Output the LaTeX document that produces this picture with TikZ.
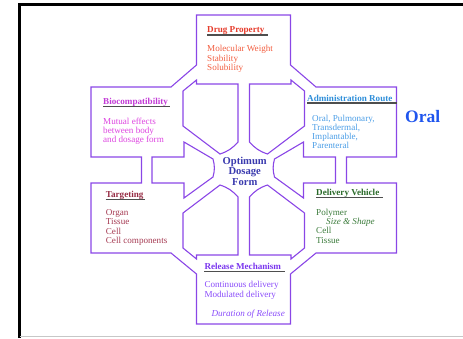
\documentclass[tikz,border=0pt]{standalone}
\usepackage{fontspec}
\setmainfont{Liberation Serif}
\definecolor{outl}{HTML}{8A46E6}
\definecolor{ulgray}{HTML}{4E4E4E}
\definecolor{drugH}{HTML}{E53B2B}
\definecolor{drugT}{HTML}{F25E40}
\definecolor{bioH}{HTML}{C23AD6}
\definecolor{bioT}{HTML}{DD45E0}
\definecolor{admH}{HTML}{2E8ED9}
\definecolor{admT}{HTML}{4A9DE6}
\definecolor{oralC}{HTML}{1F55EE}
\definecolor{coreC}{HTML}{3A3AAE}
\definecolor{tgtH}{HTML}{962C44}
\definecolor{tgtT}{HTML}{A53A52}
\definecolor{delH}{HTML}{2A6A2A}
\definecolor{delT}{HTML}{3B7B3B}
\definecolor{relH}{HTML}{7A36EE}
\definecolor{relT}{HTML}{8A4CFA}
% stacked lines with a fixed baseline distance; the stack sits on the first baseline
\newcommand\linestack[2]{\vtop{\baselineskip=#1 #2}}
\begin{document}
\begin{tikzpicture}[x=1pt,y=-1pt,
  outline/.style={draw=outl,line width=1.1pt,line join=miter},
  heading/.style={font=\fontsize{9.1}{9.3}\selectfont\bfseries,anchor=base west,inner sep=0pt},
  itemtext/.style={font=\fontsize{9.1}{9.3}\selectfont,anchor=base west,inner sep=0pt},
  ulbar/.style={draw=ulgray,line width=1.6pt},
  corelabel/.style={font=\fontsize{10.6}{10.7}\selectfont\bfseries,text=coreC,anchor=base west,inner sep=0pt}]
\useasboundingbox (0,0) rectangle (463,338);

% slide frame
\draw[line width=2.4pt] (19.5,338) -- (19.5,4.3) -- (463,4.3);
\draw[black!22,line width=1pt] (19.5,336.8) -- (463,336.8);

% outer cross-shaped outline
\draw[outline] (91,87) -- (171,87) -- (196.5,65) -- (196.5,15) -- (290.5,15) -- (290.5,65)
  -- (316,87) -- (396.5,87) -- (396.5,157) -- (346.5,157) -- (346.5,183) -- (396.5,183)
  -- (396.5,253) -- (316,253) -- (290.5,274) -- (290.5,324) -- (196.5,324) -- (196.5,274)
  -- (171,253) -- (91,253) -- (91,183) -- (141.5,183) -- (141.5,157) -- (91,157) -- cycle;

% upper arrow, split into two halves
\draw[outline] (183,91) -- (196.5,80) -- (196.5,84) -- (238,84) -- (238,142)
  to[bend left=15] (220,154) -- (183,126) -- cycle;
\draw[outline] (304.5,91) -- (291,80) -- (291,84) -- (249.5,84) -- (249.5,142)
  to[bend right=15] (267.5,154) -- (304.5,126) -- cycle;
% lower arrow, split into two halves
\draw[outline] (183,248) -- (196.5,259) -- (196.5,255) -- (238,255) -- (238,197)
  to[bend right=15] (220,185) -- (183,213) -- cycle;
\draw[outline] (304.5,248) -- (291,259) -- (291,255) -- (249.5,255) -- (249.5,197)
  to[bend left=15] (267.5,185) -- (304.5,213) -- cycle;
% side arrows
\draw[outline] (152,157) -- (184,157) -- (184,142) -- (213,159)
  to[bend left=15] (213,177) -- (184,198) -- (184,183) -- (152,183) -- cycle;
\draw[outline] (335.5,157) -- (303.5,157) -- (303.5,142) -- (274.5,159)
  to[bend right=15] (274.5,177) -- (303.5,198) -- (303.5,183) -- (335.5,183) -- cycle;

% centre label
\node[corelabel] (core) at (244,164) {\linestack{10.7pt}{\hbox to 0pt{\hss Optimum\hss}\hbox to 0pt{\hss Dosage\hss}\hbox to 0pt{\hss Form\hss}}};

% drug property
\node[heading,text=drugH] (hdrug) at (207,32.7) {Drug Property};
\draw[ulbar] ([yshift=-2pt]hdrug.base west) -- ++(61,0);
\node[itemtext,text=drugT] (tdrug) at (207,51.7) {\linestack{9.5pt}{\hbox{Molecular Weight}\hbox{Stability}\hbox{Solubility}}};

% biocompatibility
\node[heading,text=bioH] (hbio) at (103,104) {Biocompatibility};
\draw[ulbar] ([yshift=-2.4pt]hbio.base west) -- ++(67,0);
\node[itemtext,text=bioT] (tbio) at (103,124) {\linestack{9.25pt}{\hbox{Mutual effects}\hbox{between body}\hbox{and dosage form}}};

% administration route
\node[heading,text=admH] (hadm) at (307,101) {Administration Route};
\draw[ulbar] ([yshift=-2.2pt]hadm.base west) -- ++(89.5,0);
\node[itemtext,text=admT] (tadm) at (312,121) {\linestack{9pt}{\hbox{Oral, Pulmonary,}\hbox{Transdermal,}\hbox{Implantable,}\hbox{Parenteral}}};
\node[anchor=base west,inner sep=0pt,font=\fontsize{17.5}{18}\selectfont\bfseries,text=oralC] (oral) at (405,122) {Oral};

% targeting
\node[heading,text=tgtH] (htgt) at (105.7,197.3) {Targeting};
\draw[ulbar] ([yshift=-2.2pt]htgt.base west) -- ++(39.5,0);
\node[itemtext,text=tgtT] (ttgt) at (105.7,215.5) {\linestack{9.25pt}{\hbox{Organ}\hbox{Tissue}\hbox{Cell}\hbox{Cell components}}};

% delivery vehicle
\node[heading,text=delH] (hdel) at (316,195) {Delivery Vehicle};
\draw[ulbar] ([yshift=-2.4pt]hdel.base west) -- ++(66.7,0);
\node[itemtext,text=delT] (tdel) at (316,215) {\linestack{9.4pt}{\hbox{Polymer}\hbox{\kern10pt\itshape Size \& Shape}\hbox{Cell}\hbox{Tissue}}};

% release mechanism
\node[heading,text=relH] (hrel) at (204.3,269.3) {Release Mechanism};
\draw[ulbar] ([yshift=-2.3pt]hrel.base west) -- ++(80.7,0);
\node[itemtext,text=relT] (trel) at (204.3,287.7) {\linestack{9.6pt}{\hbox{Continuous delivery}\hbox{Modulated delivery}}};
\node[itemtext,text=relT,font=\fontsize{9.1}{9.3}\selectfont\itshape] (drel) at (211.3,316) {Duration of Release};
\end{tikzpicture}
\end{document}
